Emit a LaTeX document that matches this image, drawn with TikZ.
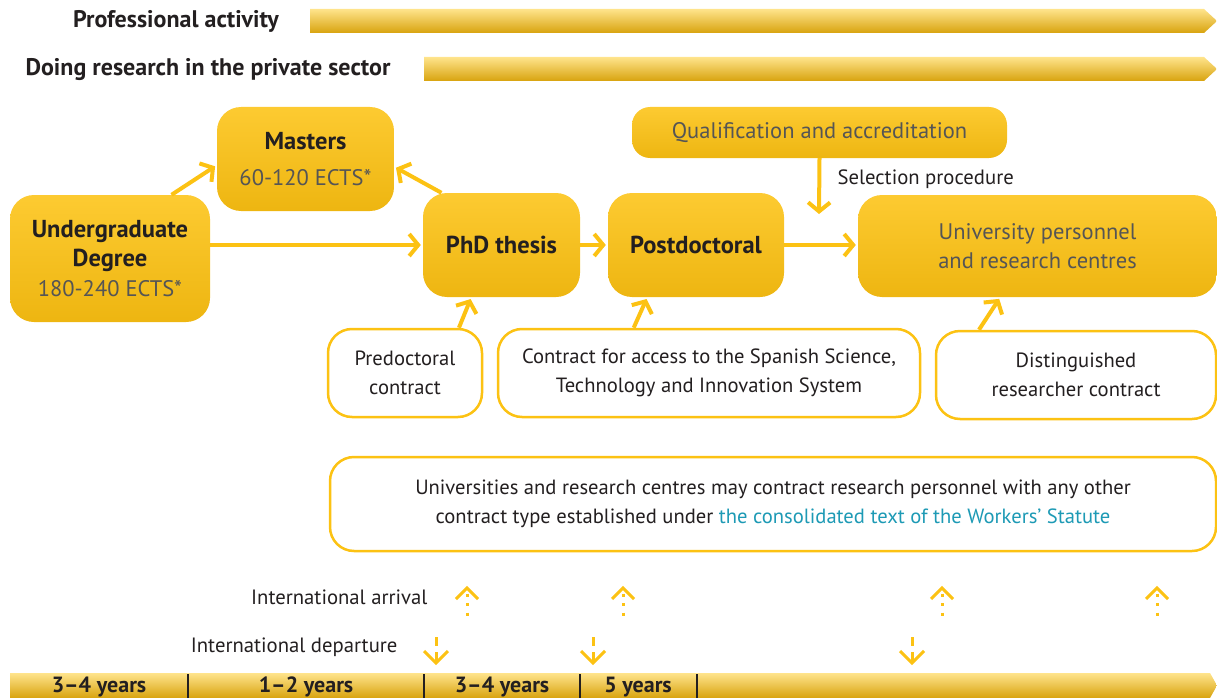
\documentclass[tikz,border=0pt]{standalone}
\usepackage{fontspec}
\setmainfont{PT Sans}
\usetikzlibrary{arrows.meta}

\definecolor{gold}{HTML}{FCC213}
\definecolor{goldhi}{HTML}{FFE48C}
\definecolor{golddk}{HTML}{D8A30E}
\definecolor{ink}{HTML}{231F20}
\definecolor{lightink}{HTML}{555555}
\definecolor{linkblue}{HTML}{1D9AB5}

\newcommand{\boldtxt}{\bfseries\fontsize{24.5}{30}\selectfont}
\newcommand{\lighttxt}{\color{lightink}\fontsize{22.5}{29}\selectfont}

\tikzset{
  stage/.style={rounded corners=24pt, top color=gold!75!goldhi, middle color=gold,
    bottom color=gold!60!golddk, inner sep=0pt, align=center, text=ink,
    font=\fontsize{22}{29.5}\selectfont},
  contract/.style={draw=gold, line width=2.5pt, rounded corners=24pt, fill=white,
    inner sep=0pt, align=center, text=ink, font=\fontsize{20.6}{28.5}\selectfont},
  flow/.style={draw=gold, line width=4pt, -{Straight Barb[length=9pt,width=22pt]},
    shorten >=2pt},
  bartext/.style={text=ink, font=\bfseries\fontsize{24}{28}\selectfont},
  yeartext/.style={text=ink, font=\bfseries\fontsize{22}{26}\selectfont},
  band/.style={top color=goldhi, middle color=gold, bottom color=golddk},
  tick/.style={draw=ink, line width=2pt},
  intl/.style={draw=gold, line width=3pt},
  plain/.style={text=ink, font=\fontsize{20.7}{26}\selectfont}
}

\begin{document}
\begin{tikzpicture}[x=1pt,y=-1pt]
  \useasboundingbox (0,0) rectangle (1217,698);

  \node[bartext] (profl) at (176,21) {Professional activity};
  \path[band] (310,9) -- (1204,9) -- (1217,21) -- (1204,33) -- (310,33) -- cycle;
  \node[bartext] (privl) at (208,70) {Doing research in the private sector};
  \path[band] (424,57) -- (1204,57) -- (1217,69) -- (1204,81) -- (424,81) -- cycle;

  \node[stage, minimum width=200pt, minimum height=127pt] (ug) at (110,258.5)
    {{\boldtxt Undergraduate}\\{\boldtxt Degree}\\{\lighttxt 180-240 ECTS*}};
  \node[stage, minimum width=177pt, minimum height=104pt] (ms) at (305.5,159)
    {{\boldtxt Masters}\\[7pt]{\lighttxt 60-120 ECTS*}};
  \node[stage, minimum width=157pt, minimum height=104pt] (phd) at (501.5,245)
    {\boldtxt PhD thesis};
  \node[stage, minimum width=176pt, minimum height=104pt] (pd) at (696,245)
    {\boldtxt Postdoctoral};
  \node[stage, rounded corners=18pt, minimum width=375pt, minimum height=51pt] (qa) at (819.5,132.5)
    {\lighttxt Qualification and accreditation};
  \node[stage, minimum width=359pt, minimum height=102pt] (univ) at (1037.5,246)
    {{\lighttxt University personnel}\\{\lighttxt and research centres}};

  \node[contract, minimum width=154pt, minimum height=88pt] (pre) at (405,373)
    {Predoctoral\\contract};
  \node[contract, minimum width=422pt, minimum height=88pt] (cont) at (709,373)
    {Contract for access to the Spanish Science,\\Technology and Innovation System};
  \node[contract, minimum width=280pt, minimum height=88pt] (dist) at (1076,375)
    {Distinguished\\researcher contract};
  \node[contract, minimum width=886pt, minimum height=94pt] (other) at (773,504)
    {Universities and research centres may contract research personnel with any other\\
     contract type established under {\color{linkblue}the consolidated text of the Workers' Statute}};

  \draw[flow] (ug.46) -- (ms.184);
  \draw[flow] (phd.139) -- (ms.355);
  \draw[flow] (ug.east |- phd.west) -- (phd.west);
  \draw[flow] (phd.east) -- (pd.west);
  \draw[flow] (pd.east) -- (pd.east -| univ.west);
  \coordinate (selend) at (819,214);
  \draw[flow, shorten >=0pt] (qa.south) -- (selend);
  \node[plain, anchor=west] (sel) at (834,179) {Selection procedure};
  \draw[flow] (pre.40) -- (phd.240);
  \draw[flow] (cont.149) -- (pd.227);
  \draw[flow] (dist.155) -- (univ.234);

  \node[plain, anchor=east] (arr) at (431,597) {International arrival};
  \node[plain, anchor=east] (dep) at (401,647) {International departure};

  \draw[intl] (456,599) -- (467,588) -- (478,599);
  \draw[intl, dash pattern=on 3pt off 6.5pt] (467,593.5) -- (467,616);
  \draw[intl] (612,599) -- (623,588) -- (634,599);
  \draw[intl, dash pattern=on 3pt off 6.5pt] (623,593.5) -- (623,616);
  \draw[intl] (931,599) -- (942,588) -- (953,599);
  \draw[intl, dash pattern=on 3pt off 6.5pt] (942,593.5) -- (942,616);
  \draw[intl] (1146,599) -- (1157,588) -- (1168,599);
  \draw[intl, dash pattern=on 3pt off 6.5pt] (1157,593.5) -- (1157,616);

  \draw[intl] (436,637) -- (436,646);
  \draw[intl] (424,651) -- (436,663) -- (448,651);
  \draw[intl] (436,652) -- (436,661);
  \draw[intl] (593,637) -- (593,646);
  \draw[intl] (581,651) -- (593,663) -- (605,651);
  \draw[intl] (593,652) -- (593,661);
  \draw[intl] (912,637) -- (912,646);
  \draw[intl] (900,651) -- (912,663) -- (924,651);
  \draw[intl] (912,652) -- (912,661);

  \path[band] (10,673) -- (1210,673) -- (1217,685.5) -- (1210,698) -- (10,698) -- cycle;
  \draw[tick] (188,674) -- (188,698);
  \draw[tick] (424,674) -- (424,698);
  \draw[tick] (580,674) -- (580,698);
  \draw[tick] (697,674) -- (697,698);
  \node[yeartext] (y1) at (99,687) {3–4 years};
  \node[yeartext] (y2) at (306,687) {1–2 years};
  \node[yeartext] (y3) at (502,687) {3–4 years};
  \node[yeartext] (y4) at (638,687) {5 years};
\end{tikzpicture}
\end{document}
